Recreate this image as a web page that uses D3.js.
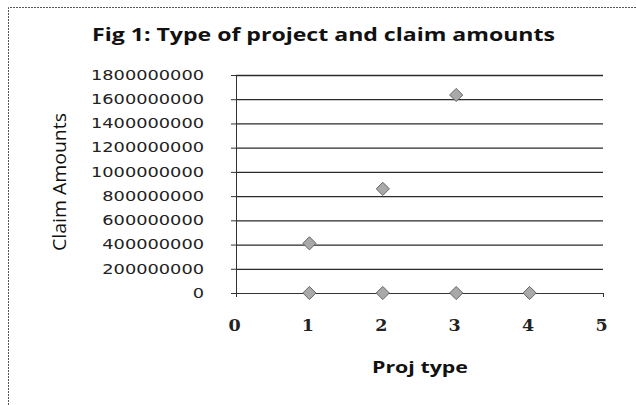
<!DOCTYPE html>
<html><head><meta charset="utf-8">
<script src="https://cdn.jsdelivr.net/npm/d3@7"></script>
<style>body{margin:0;background:#fff}svg{display:block}</style>
</head><body>
<svg id="c" width="636" height="405"></svg>
<script>
const projType = [1, 2, 3, 1, 2, 3, 4];
const claimAmounts = [410000000, 860000000, 1635000000, 0, 0, 0, 0];
const xTicks = [0, 1, 2, 3, 4, 5];
const yTicks = [0, 200000000, 400000000, 600000000, 800000000, 1000000000, 1200000000, 1400000000, 1600000000, 1800000000];

(function () {
const svg = d3.select("#c");
const pl = 236, pr = 603, pt = 75, pb = 293;
const x = d3.scaleLinear().domain([0, 5]).range([pl, pr]);
const y = d3.scaleLinear().domain([0, 1800000000]).range([pb, pt]);

// frame
svg.append("path").attr("d", "M8.5,405 L8.5,7.5 L636,7.5")
  .attr("fill", "none").attr("stroke", "#555").attr("stroke-width", 1).attr("stroke-dasharray", "2,1");

// gridlines
svg.append("g").selectAll("line").data(yTicks.filter(d => d > 0)).join("line")
  .attr("x1", pl).attr("x2", pr).attr("y1", d => y(d) + 0.5).attr("y2", d => y(d) + 0.5)
  .attr("stroke", "#2a2a2a").attr("stroke-width", 1.3);

// y axis
const ya = svg.append("g").attr("transform", `translate(${pl},0)`)
  .call(d3.axisLeft(y).tickValues(yTicks).tickSize(5).tickPadding(27).tickFormat(d3.format("d")));
ya.select(".domain").attr("stroke", "#333");
ya.selectAll(".tick line").attr("stroke", "#333");
ya.selectAll("text").attr("font-family", "'DejaVu Sans', sans-serif").attr("font-size", 13.5).attr("fill", "#222")
  .attr("textLength", d => String(d).length * 11.3).attr("lengthAdjust", "spacingAndGlyphs");

// x axis
const xa = svg.append("g").attr("transform", `translate(0,${pb})`)
  .call(d3.axisBottom(x).tickValues(xTicks).tickSize(4).tickPadding(22).tickFormat(d3.format("d")));
xa.select(".domain").attr("stroke", "#333");
xa.selectAll(".tick line").attr("stroke", "#333");
xa.selectAll("text").attr("font-family", "'DejaVu Serif', serif").attr("font-size", 17.5).attr("font-weight", "bold").attr("fill", "#222").attr("dx", -2);

// points
const pts = projType.map((p, i) => ({x: p, y: claimAmounts[i]}));
svg.append("g").selectAll("path").data(pts).join("path")
  .attr("transform", d => `translate(${x(d.x)},${y(d.y)})`)
  .attr("d", d3.symbol().type(d3.symbolDiamond2).size(110))
  .attr("fill", "#a9a9a9").attr("stroke", "#666").attr("stroke-width", 1);

// titles
svg.append("text").attr("x", 92).attr("y", 41)
  .attr("font-family", "'Open Sans', sans-serif").attr("font-weight", "bold").attr("font-size", 18).attr("fill", "#111")
  .attr("textLength", 463).attr("lengthAdjust", "spacingAndGlyphs")
  .text("Fig 1: Type of project and claim amounts");
svg.append("text").attr("transform", "translate(66,251) rotate(-90)")
  .attr("font-family", "'Open Sans', sans-serif").attr("font-size", 19).attr("fill", "#111")
  .attr("textLength", 138).attr("lengthAdjust", "spacingAndGlyphs")
  .text("Claim Amounts");
svg.append("text").attr("x", 372).attr("y", 373)
  .attr("font-family", "'Open Sans', sans-serif").attr("font-weight", "bold").attr("font-size", 16).attr("fill", "#111")
  .attr("textLength", 96).attr("lengthAdjust", "spacingAndGlyphs")
  .text("Proj type");
})();
</script>
</body></html>
